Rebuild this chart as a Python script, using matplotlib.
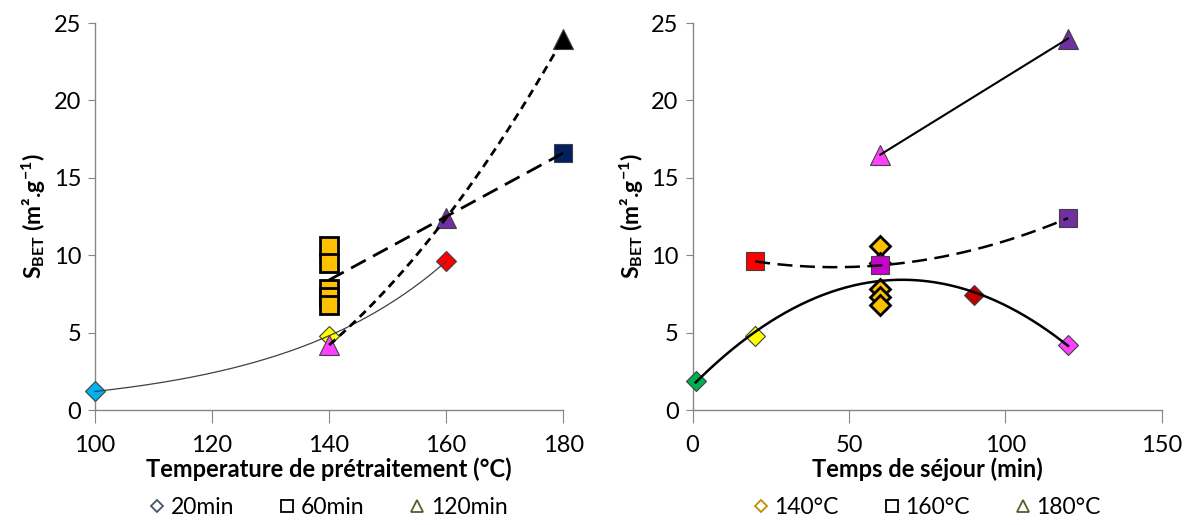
import numpy as np
import matplotlib
matplotlib.use("Agg")
import matplotlib.pyplot as plt
from matplotlib.lines import Line2D

# left panel: S_BET vs temperature, grouped by residence time
t20_x = [100, 140, 160]
t20_y = [1.2, 4.8, 9.6]
t20_colors = ["#00B0F0", "#FFFF00", "#FF0000"]

t60_x = [140, 140, 140, 140, 140, 180]
t60_y = [10.6, 9.5, 7.8, 7.3, 6.8, 16.6]
t60_colors = ["#FFC000"] * 5 + ["#002060"]

t120_x = [140, 160, 180]
t120_y = [4.2, 12.4, 24.0]
t120_colors = ["#FF40FF", "#7030A0", "#000000"]

# right panel: S_BET vs residence time, grouped by temperature
c140_x = [1, 20, 60, 60, 60, 60, 60, 90, 120]
c140_y = [1.9, 4.8, 10.6, 9.5, 7.8, 7.3, 6.8, 7.4, 4.2]
c140_colors = ["#00B050", "#FFFF00"] + ["#FFC000"] * 5 + ["#C00000", "#FF40FF"]

c160_x = [20, 60, 120]
c160_y = [9.6, 9.35, 12.4]
c160_colors = ["#FF0000", "#CC00CC", "#7030A0"]

c180_x = [60, 120]
c180_y = [16.5, 24.0]
c180_colors = ["#FF40FF", "#7030A0"]

left_labels = ["20min", "60min", "120min"]
right_labels = ["140°C", "160°C", "180°C"]

FONT = ["Lato", "DejaVu Sans"]
plt.rcParams["font.family"] = FONT
plt.rcParams["mathtext.fontset"] = "custom"
plt.rcParams["mathtext.rm"] = "Lato:bold"
plt.rcParams["mathtext.default"] = "rm"


def scatter(ax, x, y, colors, marker, size, edge="#404040", lw=0.8):
    for xi, yi, c in zip(x, y, colors):
        e = "black" if c == "#FFC000" else edge
        w = 2.0 if c == "#FFC000" else lw
        ax.plot(xi, yi, marker=marker, ms=size, mfc=c, mec=e, mew=w,
                ls="none", zorder=3, clip_on=False)


def trend(ax, x, y, deg, x0, x1, style, lw, color="black", log=False):
    xs = np.linspace(x0, x1, 200)
    if log:
        p = np.polyfit(x, np.log(y), 1)
        ys = np.exp(np.polyval(p, xs))
    else:
        p = np.polyfit(x, y, deg)
        ys = np.polyval(p, xs)
    line, = ax.plot(xs, ys, color=color, lw=lw, zorder=4, clip_on=False)
    if style is not None:
        line.set_dashes(style)


def style_axes(ax, xlim, xticks, xlabel):
    ax.set_xlim(*xlim)
    ax.set_ylim(0, 25)
    ax.set_xticks(xticks)
    ax.set_yticks(range(0, 26, 5))
    for s in ["top", "right"]:
        ax.spines[s].set_visible(False)
    for s in ["left", "bottom"]:
        ax.spines[s].set_color("#868686")
        ax.spines[s].set_linewidth(1.0)
    ax.tick_params(axis="x", direction="out", length=9, color="#868686",
                   labelsize=17, pad=9)
    ax.tick_params(axis="y", direction="out", length=5, color="#868686",
                   labelsize=17, pad=5)
    ax.set_xlabel(xlabel, fontsize=17, fontweight="bold", labelpad=1)
    ax.set_ylabel("S$_{BET}$ (m².g$^{-1}$)", fontsize=16.5,
                  fontweight="bold", labelpad=4)
    ax.spines["left"].set_zorder(0.5)


def legend(ax, labels, edges):
    handles = [
        Line2D([], [], marker="D", ms=6, mfc="white", mec=edges[0], mew=1.3, ls="none"),
        Line2D([], [], marker="s", ms=8, mfc="white", mec=edges[1], mew=1.3, ls="none"),
        Line2D([], [], marker="^", ms=9, mfc="white", mec=edges[2], mew=1.3, ls="none"),
    ]
    ax.legend(handles, labels, loc="upper center", bbox_to_anchor=(0.5, -0.2),
              ncol=3, frameon=False, fontsize=16.5, handlelength=0.6,
              handletextpad=0.3, columnspacing=2.0, borderaxespad=0)


def plot_sbet():
    fig = plt.figure(figsize=(11.88, 5.25), dpi=100)
    ax1 = fig.add_axes([0.080, 0.219, 0.394, 0.737])
    ax2 = fig.add_axes([0.583, 0.219, 0.395, 0.737])

    # left panel
    scatter(ax1, t20_x, t20_y, t20_colors, "D", 10)
    scatter(ax1, t60_x, t60_y, t60_colors, "s", 13.5)
    scatter(ax1, t120_x, t120_y, t120_colors, "^", 14)
    trend(ax1, t20_x, t20_y, 1, 100, 160, None, 0.9, color="#404040", log=True)
    trend(ax1, t60_x, t60_y, 1, 140, 180, (6, 3), 2.0)
    trend(ax1, t120_x, t120_y, 2, 140, 180, (3, 2), 2.0)
    style_axes(ax1, (100, 180), range(100, 181, 20), "Temperature de prétraitement (°C)")
    legend(ax1, left_labels, ["#44546A", "black", "#4F6228"])

    # right panel
    scatter(ax2, c140_x, c140_y, c140_colors, "D", 10)
    scatter(ax2, c160_x, c160_y, c160_colors, "s", 13.5)
    scatter(ax2, c180_x, c180_y, c180_colors, "^", 14)
    trend(ax2, c140_x, c140_y, 2, 1, 120, None, 1.8)
    trend(ax2, c160_x, c160_y, 2, 20, 120, (6, 3), 1.8)
    trend(ax2, c180_x, c180_y, 1, 60, 120, None, 1.5)
    style_axes(ax2, (0, 150), range(0, 151, 50), "Temps de séjour (min)")
    legend(ax2, right_labels, ["#BF9000", "black", "#4F6228"])

    fig.savefig("out.png", dpi=100)


if __name__ == '__main__':
    plot_sbet()
